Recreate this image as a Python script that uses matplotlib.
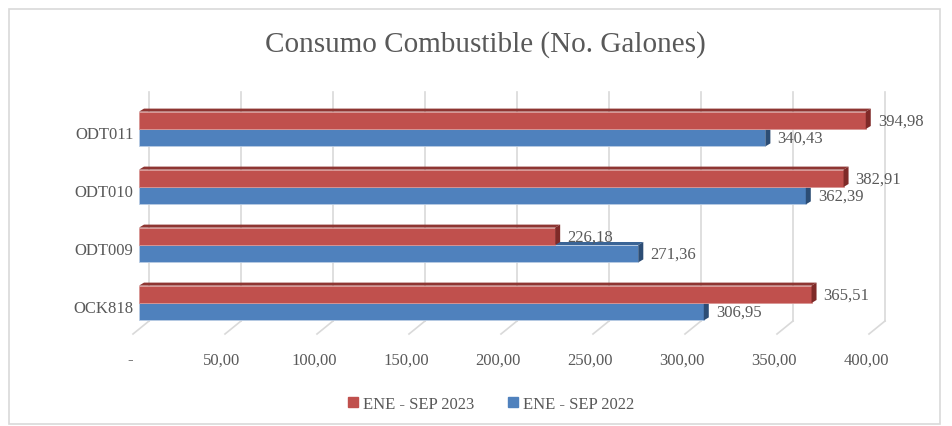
import matplotlib.pyplot as plt
import matplotlib.transforms as mtransforms
from matplotlib.patches import Polygon, Rectangle, Patch
import numpy as np

plt.rcParams['font.family'] = ['Liberation Serif', 'DejaVu Serif']

# Datos
categorias = ['OCK818', 'ODT009', 'ODT010', 'ODT011']
ene_sep_2023 = [365.51, 226.18, 382.91, 394.98]
ene_sep_2022 = [306.95, 271.36, 362.39, 340.43]
ticks_x = [0, 50, 100, 150, 200, 250, 300, 350, 400]
etiquetas_x = ['-', '50,00', '100,00', '150,00', '200,00', '250,00', '300,00', '350,00', '400,00']

gris = '#595959'
rojo, rojo_top, rojo_lado = '#C0504D', '#8E3532', '#7F2A28'
azul, azul_top, azul_lado = '#4F81BD', '#3A6496', '#2C4D75'

W, H = 953, 427
fig = plt.figure(figsize=(W / 100, H / 100), dpi=100)

# marco del grafico
fig.patches.append(Rectangle((9 / W, 2 / H), 931 / W, (H - 12) / H, transform=fig.transFigure,
                             fill=False, edgecolor='#d9d9d9', linewidth=1.2))

# posicion de ejes en pixeles
px_x0, px_unit = 139, 1.84
px_y_top, px_y_bot = 90, 337
xmax = 420
ax = fig.add_axes([px_x0 / W, (H - px_y_bot) / H, xmax * px_unit / W, (px_y_bot - px_y_top) / H])
y_step = 58.0
ylo = -(px_y_bot - 304) / y_step
yhi = 3 + (130 - px_y_top) / y_step
ax.set_xlim(0, xmax)
ax.set_ylim(ylo, yhi)

def ux(px):
    return px / px_unit

def uy(px):
    return px / y_step

# pared del fondo y piso
back_dx = ux(10)
for v in ticks_x:
    ax.plot([v + back_dx, v + back_dx], [-uy(18), 3 + uy(37)], color='#d9d9d9', lw=1.2, zorder=1, clip_on=False)
    ax.plot([v + back_dx, v - ux(6)], [-uy(18), -uy(31)], color='#d9d9d9', lw=1.2, zorder=1, clip_on=False)

h = 0.30
ddx, ddy = ux(5), uy(3)
y = np.arange(len(categorias))

def barra3d(yb, w, c, ctop, clado, z):
    ax.barh(yb + h / 2, w, height=h, color=c, edgecolor='#b8cce4' if c == azul else '#d99694',
            linewidth=0.6, zorder=z)
    top = Polygon([(0, yb + h), (w, yb + h), (w + ddx, yb + h + ddy), (ddx, yb + h + ddy)],
                  closed=True, facecolor=ctop, edgecolor='none', zorder=z)
    lado = Polygon([(w, yb), (w, yb + h), (w + ddx, yb + h + ddy), (w + ddx, yb + ddy)],
                   closed=True, facecolor=clado, edgecolor='none', zorder=z)
    ax.add_patch(top)
    ax.add_patch(lado)

for i in range(len(categorias)):
    barra3d(y[i] - h, ene_sep_2022[i], azul, azul_top, azul_lado, 3)
    barra3d(y[i], ene_sep_2023[i], rojo, rojo_top, rojo_lado, 4)
    ax.text(ene_sep_2023[i] + ux(12), y[i] + h / 2, f'{ene_sep_2023[i]:.2f}'.replace('.', ','),
            va='center', ha='left', fontsize=12, color=gris, zorder=6)
    ax.text(ene_sep_2022[i] + ux(12), y[i] - h / 2, f'{ene_sep_2022[i]:.2f}'.replace('.', ','),
            va='center', ha='left', fontsize=12, color=gris, zorder=6)

ax.set_yticks(y)
ax.set_yticklabels(categorias, fontsize=12, color=gris)
ax.set_xticks(ticks_x)
ax.set_xticklabels(etiquetas_x, fontsize=12, color=gris)
ax.tick_params(length=0)
ax.tick_params(axis='x', pad=11)
ax.tick_params(axis='y', pad=4)
for s in ax.spines.values():
    s.set_visible(False)
ax.patch.set_alpha(0)

off_x = mtransforms.ScaledTranslation(-9 / 100, 0, fig.dpi_scale_trans)
for lab in ax.get_xticklabels():
    lab.set_transform(lab.get_transform() + off_x)
off_y = mtransforms.ScaledTranslation(0, -3 / 100, fig.dpi_scale_trans)
for lab in ax.get_yticklabels():
    lab.set_transform(lab.get_transform() + off_y)

fig.text(485 / W, 1 - 45 / H, 'Consumo Combustible (No. Galones)', ha='center', va='center',
         fontsize=21, color=gris)

handles = [Patch(color=rojo, label='ENE - SEP 2023'), Patch(color=azul, label='ENE - SEP 2022')]
fig.legend(handles=handles, loc='center', bbox_to_anchor=(491 / W, 1 - 405 / H), ncol=2,
           frameon=False, fontsize=12, labelcolor=gris, handlelength=0.6, handleheight=0.6,
           handletextpad=0.3, columnspacing=2.0)

fig.savefig('out.png', dpi=100)
